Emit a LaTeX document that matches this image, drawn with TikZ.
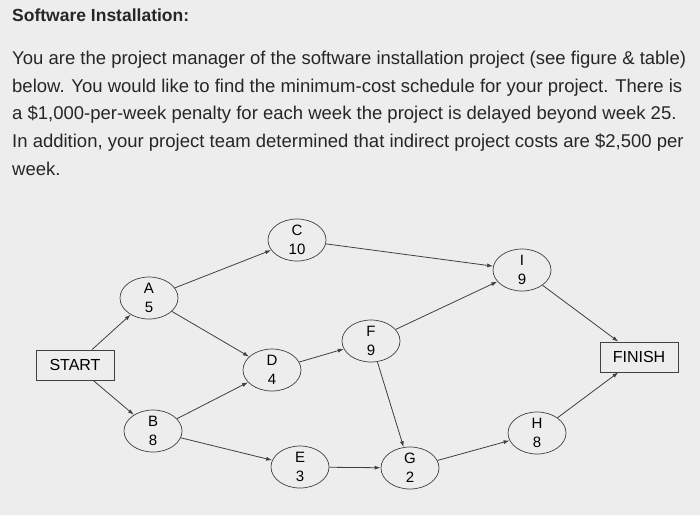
\documentclass[tikz,border=0pt]{standalone}
\usepackage{fontspec}
\setmainfont{Liberation Sans}
\usetikzlibrary{arrows.meta,shapes.geometric}
\begin{document}
\begin{tikzpicture}[x=1pt,y=-1pt,
  txt/.style={anchor=west,inner sep=0pt,font=\fontsize{18.5}{20}\selectfont,text=black!85},
  act/.style={draw=black!75,ellipse,minimum width=58pt,minimum height=42pt,inner sep=0pt,align=center,font=\fontsize{15}{19}\selectfont,line width=0.7pt},
  term/.style={draw=black!75,rectangle,minimum width=78pt,minimum height=30pt,font=\fontsize{16}{18}\selectfont,line width=0.7pt},
  arr/.style={draw=black!75,line width=0.8pt,-{Latex[length=6pt,width=4pt]}}]
\fill[gray!14] (0,0) rectangle (700,515);
\useasboundingbox (0,0) rectangle (700,515);
\node[txt,font=\bfseries\fontsize{17.5}{20}\selectfont] (t0) at (12,15) {Software Installation:};
\node[txt] (t1) at (12,60) {You are the project manager of the software installation project (see figure \& table)};
\node[txt] (t2) at (12,88) {below. You would like to find the minimum-cost schedule for your project. There is};
\node[txt] (t3) at (12,115) {a \$1,000-per-week penalty for each week the project is delayed beyond week 25.};
\node[txt] (t4) at (12,143) {In addition, your project team determined that indirect project costs are \$2,500 per};
\node[txt] (t5) at (12,169) {week.};
\node[term] (S) at (75,365) {START};
\node[term] (Fi) at (639,357) {FINISH};
\node[act] (A) at (149,298) {A\\5};
\node[act] (C) at (297,240) {C\\10};
\node[act] (I) at (522,270) {I\\9};
\node[act] (D) at (272,370) {D\\4};
\node[act] (F) at (371,341) {F\\9};
\node[act] (B) at (153,431) {B\\8};
\node[act] (E) at (300,467) {E\\3};
\node[act] (G) at (410,468) {G\\2};
\node[act] (H) at (537,433) {H\\8};
\draw[arr] (S) -- (A);
\draw[arr] (S) -- (B);
\draw[arr] (A) -- (C);
\draw[arr] (A) -- (D);
\draw[arr] (B) -- (D);
\draw[arr] (B) -- (E);
\draw[arr] (C) -- (I);
\draw[arr] (D) -- (F);
\draw[arr] (F) -- (I);
\draw[arr] (F) -- (G);
\draw[arr] (E) -- (G);
\draw[arr] (G) -- (H);
\draw[arr] (I) -- (Fi);
\draw[arr] (H) -- (Fi);
\end{tikzpicture}
\end{document}
